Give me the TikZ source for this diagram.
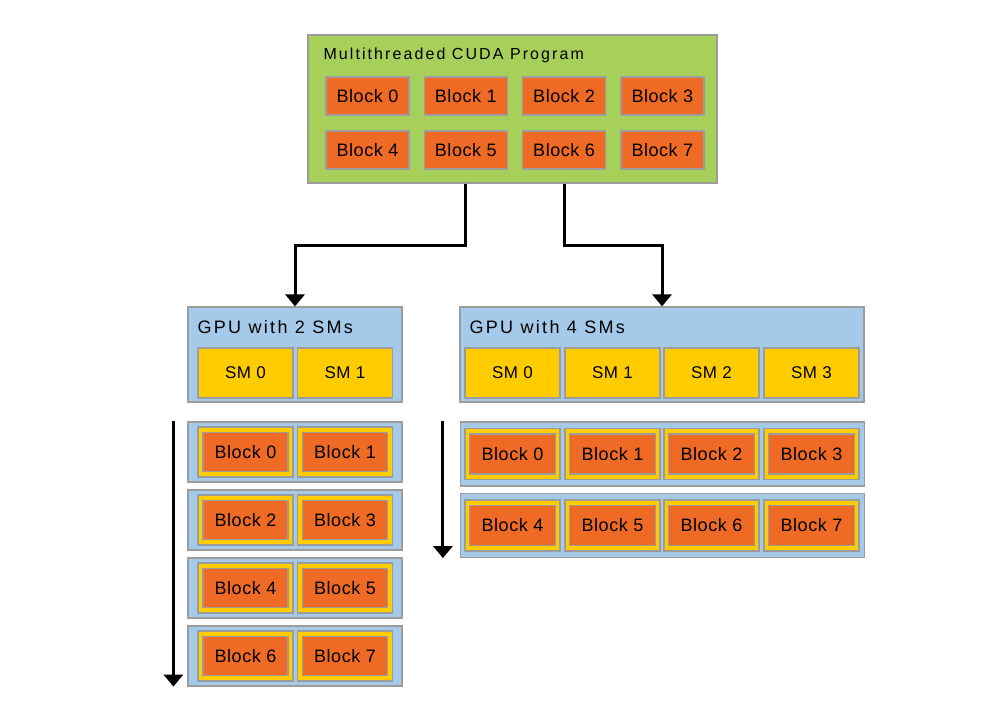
\documentclass[tikz,border=0pt]{standalone}
\usepackage{fontspec}
\setmainfont{Liberation Sans}
\newfontfamily\blockfont[LetterSpace=3]{Liberation Sans}
\newfontfamily\titlefont[LetterSpace=13]{Liberation Sans}
\usetikzlibrary{arrows.meta}
\definecolor{progGreen}{HTML}{A7D05A}
\definecolor{blkOrange}{HTML}{EF6A24}
\definecolor{smYellow}{HTML}{FFCC00}
\definecolor{gpuBlue}{HTML}{A5C9E9}
\definecolor{edgeGray}{HTML}{9C9C9C}
\begin{document}
\begin{tikzpicture}[x=1pt,y=-1pt,
  box/.style={draw=edgeGray, line width=1.2pt, inner sep=0pt},
  blockbox/.style={box, fill=blkOrange, font=\blockfont\fontsize{18}{20}\selectfont},
  smbox/.style={box, fill=smYellow, minimum width=95pt, minimum height=50pt},
  gpubox/.style={box, fill=gpuBlue},
  flow/.style={line width=3pt, -{Triangle[width=19pt,length=12pt]}}]
\useasboundingbox (0,0) rectangle (987,704);
% program with its eight blocks
\node[box, fill=progGreen, minimum width=409pt, minimum height=148pt] (prog) at (512.5,109) {};
\node[anchor=west, font=\titlefont\fontsize{16}{18}\selectfont] (progtitle) at (320,55) {Multithreaded CUDA Program};
\foreach \i in {0,...,7} {
  \pgfmathsetmacro{\bx}{367.5+98.3*mod(\i,4)}
  \pgfmathsetmacro{\by}{96+54*int(\i/4)}
  \node[blockbox, minimum width=83pt, minimum height=38pt] (pb\i) at (\bx,\by) {Block \i};
}
% the two GPUs
\node[gpubox, minimum width=214pt, minimum height=95pt] (gpuA) at (295,354.5) {};
\node[gpubox, minimum width=404pt, minimum height=95pt] (gpuB) at (662,354.5) {};
\node[anchor=west, font=\titlefont\fontsize{18}{20}\selectfont] (gpuAtitle) at (194,327) {GPU with 2 SMs};
\node[anchor=west, font=\titlefont\fontsize{18}{20}\selectfont] (gpuBtitle) at (466,327) {GPU with 4 SMs};
\foreach \j/\x in {0/245.5,1/345} {
  \node[smbox, font=\blockfont\fontsize{17}{20}\selectfont] (smA\j) at (\x,373) {SM \j};
}
\foreach \j/\x in {0/512.5,1/612.5,2/711.5,3/811.5} {
  \node[smbox, font=\blockfont\fontsize{17}{20}\selectfont] (smB\j) at (\x,373) {SM \j};
}
\draw[flow] (prog.south -| pb5) -- ++(0,62) -| (gpuA.north);
\draw[flow] (prog.south -| pb6) -- ++(0,62) -| (gpuB.north);
% blocks over time, 2 SMs
\foreach \r in {0,...,3} {
  \node[gpubox, minimum width=214pt, minimum height=60pt] (rowA\r) at (295,452+68*\r) {};
  \foreach \j in {0,1} {
    \pgfmathtruncatemacro{\blk}{2*\r+\j}
    \node[smbox] (ysA\blk) at (smA\j |- rowA\r) {};
    \node[blockbox, minimum width=85pt, minimum height=39pt] (bA\blk) at (ysA\blk) {Block \blk};
  }
}
% blocks over time, 4 SMs
\foreach \r in {0,1} {
  \node[gpubox, minimum width=404pt, minimum height=64pt] (rowB\r) at (662.5,454+71.5*\r) {};
  \foreach \j in {0,...,3} {
    \pgfmathtruncatemacro{\blk}{4*\r+\j}
    \node[smbox, minimum height=51pt] (ysB\blk) at (smB\j |- rowB\r) {};
    \node[blockbox, minimum width=86pt, minimum height=40pt] (bB\blk) at (ysB\blk) {Block \blk};
  }
}
\coordinate (tA0) at ([xshift=-14pt]rowA0.north west);
\coordinate (tA1) at ([xshift=-14pt]rowA3.south west);
\coordinate (tB0) at ([xshift=-17pt]rowB0.north west);
\coordinate (tB1) at ([xshift=-17pt]rowB1.south west);
\draw[flow] (tA0) -- (tA1);
\draw[flow] (tB0) -- (tB1);
\end{tikzpicture}
\end{document}
